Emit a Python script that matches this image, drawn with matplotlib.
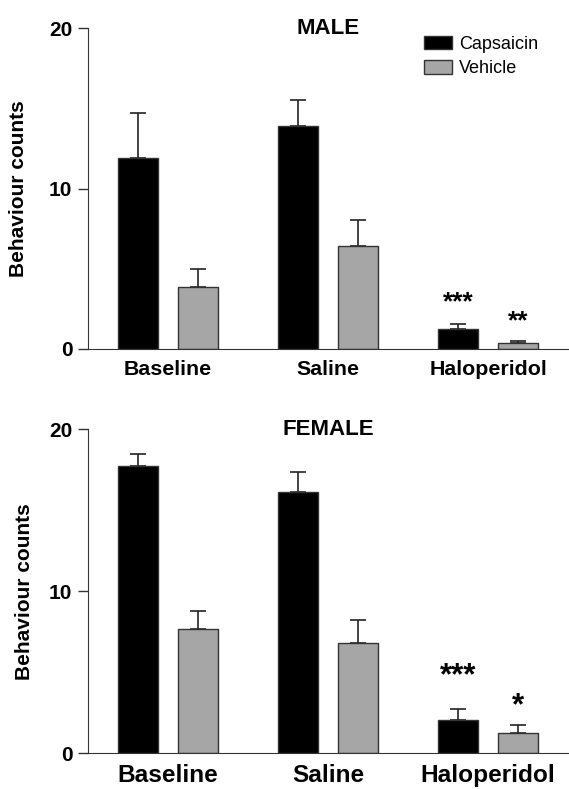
import matplotlib.pyplot as plt
import numpy as np

plt.rcParams['font.family'] = ['Liberation Sans', 'DejaVu Sans']

groups = ['Baseline', 'Saline', 'Haloperidol']
series = ['Capsaicin', 'Vehicle']

male_caps = [11.9, 13.9, 1.25]
male_caps_err = [2.8, 1.6, 0.32]
male_veh = [3.83, 6.4, 0.36]
male_veh_err = [1.17, 1.65, 0.14]
male_stars = ['', '', '***']
male_stars_veh = ['', '', '**']

female_caps = [17.76, 16.11, 2.02]
female_caps_err = [0.72, 1.28, 0.68]
female_veh = [7.68, 6.8, 1.26]
female_veh_err = [1.12, 1.4, 0.49]
female_stars = ['', '', '***']
female_stars_veh = ['', '', '*']

edge = '#333333'
grey = '#a6a6a6'

fig = plt.figure(figsize=(5.69, 7.89), dpi=100)
ax1 = fig.add_axes([0.1547, 0.5580, 0.8436, 0.4061])
ax2 = fig.add_axes([0.1547, 0.0456, 0.8436, 0.4103])

x = np.arange(len(groups))
w = 0.25
off = 0.186


def panel(ax, caps, caps_err, veh, veh_err, stars_c, stars_v, title,
          xfs, star_fs, star_y_c, star_y_v):
    ax.bar(x - off, caps, w, color='black', edgecolor=edge, linewidth=1,
           label=series[0], zorder=2)
    ax.bar(x + off, veh, w, color=grey, edgecolor=edge, linewidth=1,
           label=series[1], zorder=2)
    ax.errorbar(x - off, caps, yerr=[np.zeros(3), caps_err], fmt='none',
                ecolor='#222222', elinewidth=1.2, capsize=5.8, capthick=1.2,
                zorder=1)
    ax.errorbar(x + off, veh, yerr=[np.zeros(3), veh_err], fmt='none',
                ecolor='#222222', elinewidth=1.2, capsize=5.8, capthick=1.2,
                zorder=1)
    for i in range(3):
        if stars_c[i]:
            ax.text(x[i] - off, star_y_c, stars_c[i], ha='center',
                    va='baseline', fontsize=star_fs, fontweight='bold')
        if stars_v[i]:
            ax.text(x[i] + off, star_y_v, stars_v[i], ha='center',
                    va='baseline', fontsize=star_fs, fontweight='bold')
    ax.text(1, 20, title, ha='center', va='center', fontsize=16,
            fontweight='bold')
    ax.set_xlim(-0.5, 2.5)
    ax.set_ylim(0, 20)
    ax.set_yticks([0, 10, 20])
    ax.set_xticks(x)
    ax.set_xticklabels(groups, fontsize=xfs, fontweight='bold')
    ax.tick_params(axis='x', length=0, pad=8)
    ax.tick_params(axis='y', length=7.2, width=1, color=edge, pad=4,
                   labelsize=15)
    for t in ax.get_yticklabels():
        t.set_fontweight('bold')
    ax.spines['top'].set_visible(False)
    ax.spines['right'].set_visible(False)
    ax.spines['left'].set_color(edge)
    ax.spines['bottom'].set_color(edge)
    ax.set_ylabel('Behaviour counts', fontsize=15, fontweight='bold')


panel(ax1, male_caps, male_caps_err, male_veh, male_veh_err, male_stars,
      male_stars_veh, 'MALE', 15.4, 19, 2.46, 1.26)
panel(ax2, female_caps, female_caps_err, female_veh, female_veh_err,
      female_stars, female_stars_veh, 'FEMALE', 17.6, 22.5, 4.25, 2.4)

ax1.yaxis.set_label_coords(-0.125, 0.5)
ax2.yaxis.set_label_coords(-0.1125, 0.5)

ax1.legend(loc='upper left', bbox_to_anchor=(0.7, 0.977), frameon=False,
           fontsize=13, borderpad=0, borderaxespad=0, handlelength=1.55,
           handleheight=0.78, handletextpad=0.39, labelspacing=0.4)

fig.savefig('out.png', dpi=100)
